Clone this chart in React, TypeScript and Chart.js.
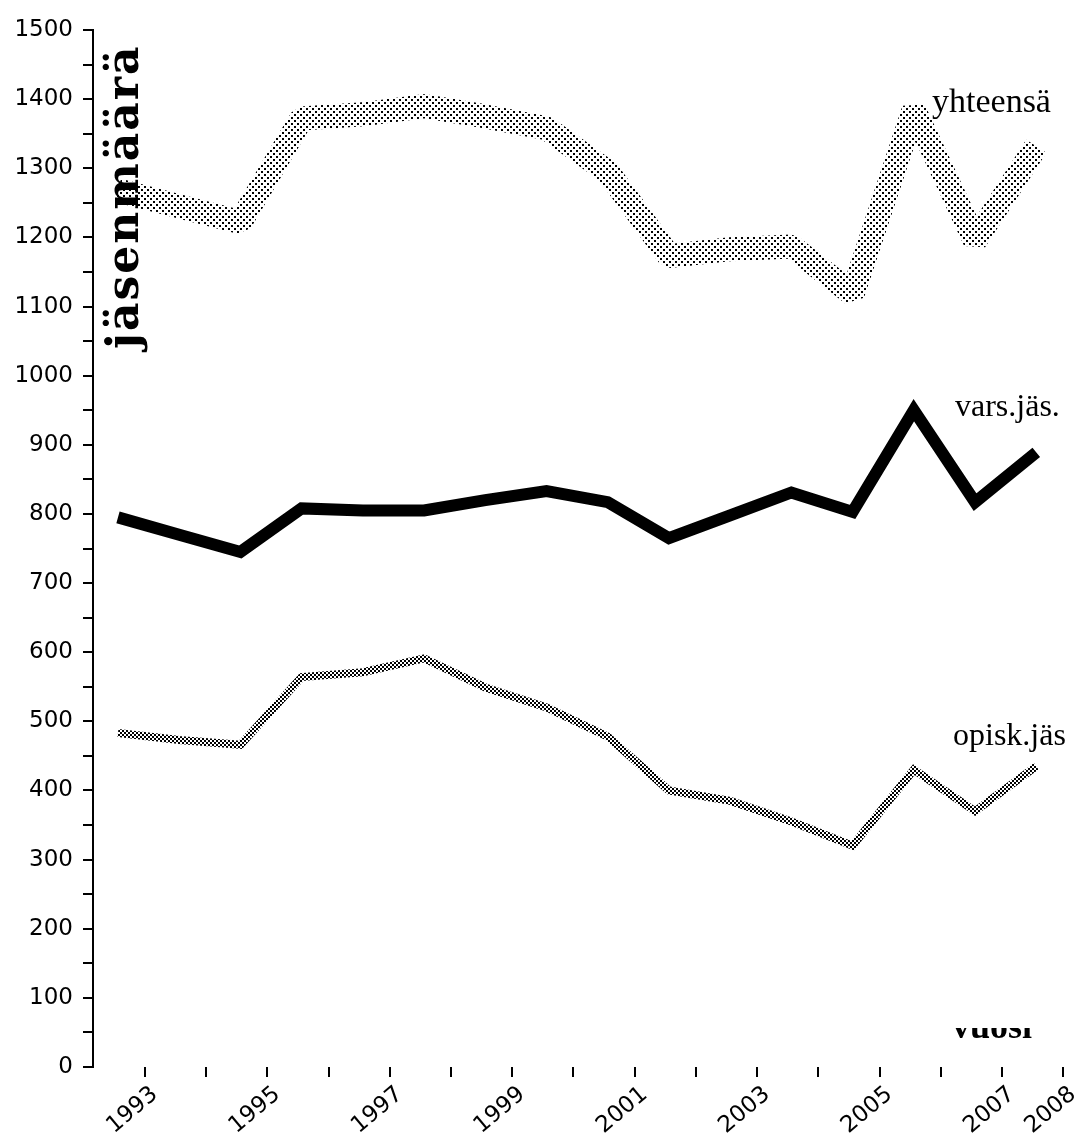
import React, { useEffect, useRef } from 'react';
import { Chart, registerables } from 'chart.js';

Chart.register(...registerables);

const years = [1993, 1994, 1995, 1996, 1997, 1998, 1999, 2000, 2001, 2002, 2003, 2004, 2005, 2006, 2007, 2008];
const xTickLabels = ['1993', '', '1995', '', '1997', '', '1999', '', '2001', '', '2003', '', '2005', '', '2007', '2008'];
const yhteensa = [1268, 1245, 1222, 1372, 1378, 1390, 1375, 1358, 1295, 1173, 1183, 1187, 1118, 1385, 1195, 1332];
const varsJas = [795, 770, 745, 808, 805, 805, 820, 833, 817, 765, 798, 831, 803, 950, 817, 889];
const opiskJas = [483, 473, 466, 564, 571, 591, 549, 520, 478, 400, 385, 355, 320, 430, 370, 435];

const seriesLabels = ['yhteensä', 'vars.jäs.', 'opisk.jäs'];
const yTitle = 'jäsenmäärä';
const xTitle = 'vuosi';

function makePattern(w: number, h: number, dots: [number, number, number][]): CanvasPattern | string {
  const c = document.createElement('canvas');
  c.width = w;
  c.height = h;
  const g = c.getContext('2d');
  if (!g) return '#000';
  g.fillStyle = '#fff';
  g.fillRect(0, 0, w, h);
  g.fillStyle = '#000';
  dots.forEach(([x, y, s]) => g.fillRect(x, y, s, s));
  const p = g.createPattern(c, 'repeat');
  return p || '#000';
}

export default function App() {
  const ref = useRef<HTMLCanvasElement | null>(null);

  useEffect(() => {
    document.body.style.margin = '0';
    const canvas = ref.current;
    if (!canvas) return;

    const stipple = makePattern(6, 6, [[0, 0, 2], [3, 3, 2]]);
    const checker = makePattern(4, 4, [[0, 0, 2], [2, 2, 2]]);

    const annotations = {
      id: 'annotations',
      afterDraw(chart: any) {
        const ctx = chart.ctx as CanvasRenderingContext2D;
        ctx.save();
        ctx.fillStyle = '#000';
        ctx.textAlign = 'left';
        ctx.textBaseline = 'alphabetic';
        ctx.font = '34px "Liberation Serif"';
        ctx.fillText(seriesLabels[0], 932, 112);
        ctx.font = '32px "Liberation Serif"';
        ctx.fillText(seriesLabels[1], 955, 416);
        ctx.fillText(seriesLabels[2], 953, 745);

        ctx.save();
        ctx.beginPath();
        ctx.rect(900, 1028, 185, 30);
        ctx.clip();
        ctx.font = 'bold 36px "Liberation Serif"';
        ctx.fillText(xTitle, 952, 1038);
        ctx.restore();

        ctx.save();
        ctx.translate(138, 349);
        ctx.rotate(-Math.PI / 2);
        ctx.font = 'bold 44px "DejaVu Serif"';
        (ctx as any).letterSpacing = '2px';
        ctx.fillText(yTitle, 0, 0);
        ctx.restore();

        ctx.restore();
      },
    };

    const chart = new Chart(canvas, {
      type: 'line',
      data: {
        datasets: [
          {
            label: seriesLabels[0],
            data: years.map((y, i) => ({ x: y, y: yhteensa[i] })),
            borderColor: stipple as any,
            borderWidth: 24,
            borderJoinStyle: 'bevel',
            borderCapStyle: 'butt',
            pointRadius: 0,
            tension: 0,
            fill: false,
          },
          {
            label: seriesLabels[1],
            data: years.map((y, i) => ({ x: y, y: varsJas[i] })),
            borderColor: '#000',
            borderWidth: 12,
            borderJoinStyle: 'miter',
            borderCapStyle: 'butt',
            pointRadius: 0,
            tension: 0,
            fill: false,
          },
          {
            label: seriesLabels[2],
            data: years.map((y, i) => ({ x: y, y: opiskJas[i] })),
            borderColor: checker as any,
            borderWidth: 8,
            borderJoinStyle: 'miter',
            borderCapStyle: 'butt',
            pointRadius: 0,
            tension: 0,
            fill: false,
          },
        ],
      },
      options: {
        animation: false,
        responsive: false,
        devicePixelRatio: 1,
        layout: { padding: { top: 30, right: 18, left: 0, bottom: 0 } },
        plugins: {
          legend: { display: false },
          tooltip: { enabled: false },
          title: { display: false },
        },
        scales: {
          x: {
            type: 'linear',
            min: 1992.592,
            max: 2008.49,
            border: { display: false },
            grid: { drawOnChartArea: false, drawTicks: true, tickLength: 10, color: '#000', lineWidth: 2 },
            afterBuildTicks: (scale: any) => {
              scale.ticks = years.map((y) => ({ value: y + 0.44 }));
            },
            afterFit: (scale: any) => {
              scale.height = 66;
            },
            ticks: {
              autoSkip: false,
              minRotation: 40,
              maxRotation: 40,
              labelOffset: 10,
              padding: 4,
              color: '#000',
              font: { family: '"DejaVu Sans"', size: 23 },
              callback: (_v: any, i: number) => xTickLabels[i],
            },
          },
          y: {
            type: 'linear',
            min: 0,
            max: 1500,
            border: { display: true, color: '#000', width: 2 },
            grid: { drawOnChartArea: false, drawTicks: true, tickLength: 10, color: '#000', lineWidth: 2 },
            afterFit: (scale: any) => {
              scale.width = 93;
            },
            ticks: {
              stepSize: 50,
              autoSkip: false,
              padding: 10,
              color: '#000',
              font: { family: '"DejaVu Sans"', size: 23 },
              callback: (v: any) => (Number(v) % 100 === 0 ? String(v) : ''),
            },
          },
        },
      },
      plugins: [annotations],
    });

    return () => chart.destroy();
  }, []);

  return (
    <div style={{ width: 1085, height: 1133, position: 'relative', background: '#fff' }}>
      <canvas ref={ref} width={1085} height={1133} style={{ display: 'block' }} />
    </div>
  );
}
